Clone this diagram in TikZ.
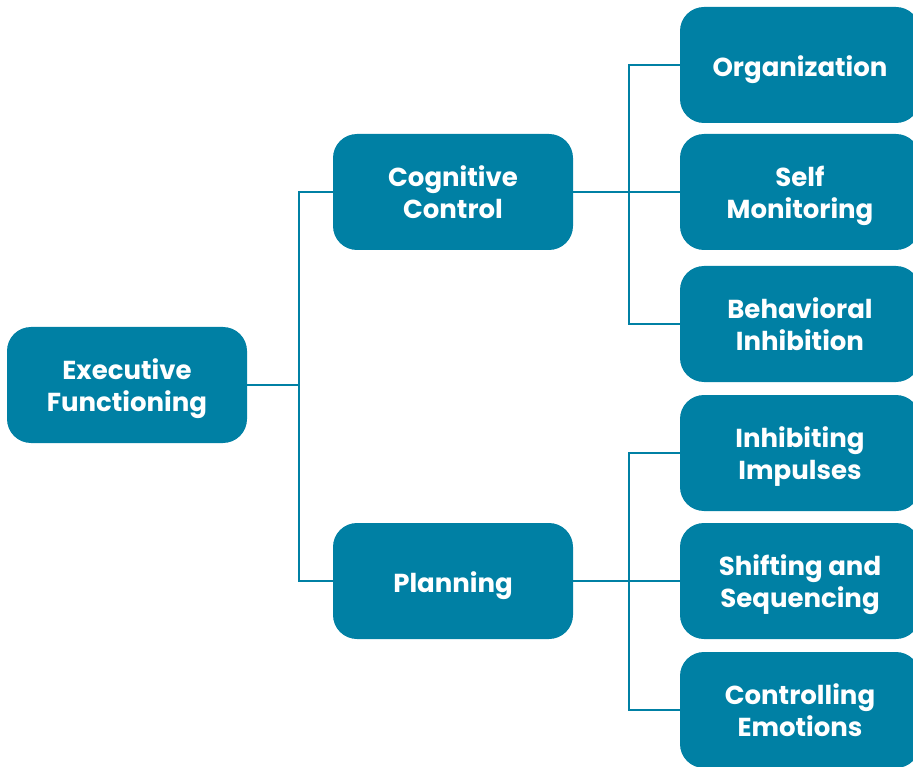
\documentclass[tikz,border=0pt]{standalone}
\usepackage{fontspec}
\setmainfont{Poppins}
\definecolor{box}{RGB}{0, 128, 164}

\begin{document}
\begin{tikzpicture}[x=1pt, y=-1pt,
    item/.style={fill=box, rounded corners=24pt, minimum width=240pt,
      minimum height=116pt, align=center, text=white,
      font=\fontsize{26}{32}\selectfont\bfseries,
      execute at begin node={\rule{0pt}{30pt}},
      execute at end node={\rule[-6pt]{0pt}{6pt}}},
    pair/.style={item, text depth=-2pt},
    link/.style={draw=box, line width=1.6pt}]
      \useasboundingbox (0, 0) rectangle (913, 767);
      \node[pair] (exe) at (127, 385) {Executive\\Functioning};
      \node[pair] (cog) at (453, 192) {Cognitive\\Control};
      \node[item] (pla) at (453, 581) {Planning};
      \node[item] (org) at (800, 65) {Organization};
      \node[pair] (sel) at (800, 192) {Self\\Monitoring};
      \node[pair] (beh) at (800, 324) {Behavioral\\Inhibition};
      \node[pair] (inh) at (800, 453) {Inhibiting\\Impulses};
      \node[pair] (shi) at (800, 581) {Shifting and\\Sequencing};
      \node[pair] (con) at (800, 710) {Controlling\\Emotions};
      \draw[link] (exe.east) -- ++(52, 0) |- (cog.west);
      \draw[link] (exe.east) -- ++(52, 0) |- (pla.west);
      \draw[link] (cog.east) -- ++(56, 0) |- (org.west);
      \draw[link] (cog.east) -- (sel.west);
      \draw[link] (cog.east) -- ++(56, 0) |- (beh.west);
      \draw[link] (pla.east) -- ++(56, 0) |- (inh.west);
      \draw[link] (pla.east) -- (shi.west);
      \draw[link] (pla.east) -- ++(56, 0) |- (con.west);
    \end{tikzpicture}
\end{document}
